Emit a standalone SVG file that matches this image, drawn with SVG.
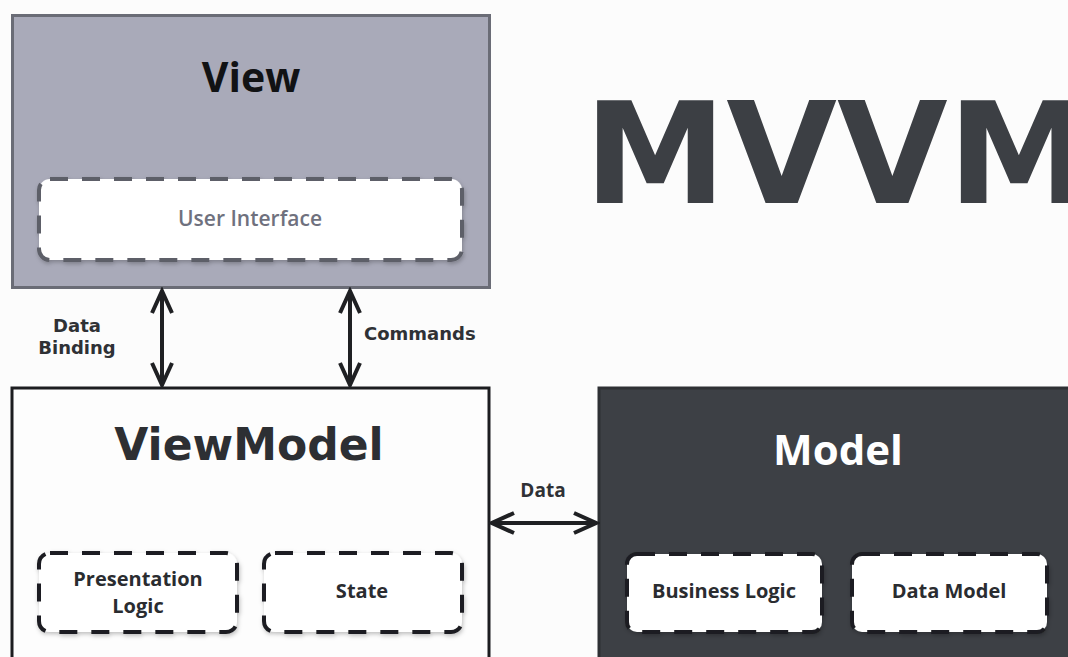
<svg xmlns="http://www.w3.org/2000/svg" width="1068" height="657" viewBox="0 0 1068 657">
  <defs>
    <style>
      .title-os { font-family: "Open Sans", "Noto Sans", sans-serif; font-weight: 700; text-anchor: middle; }
      .title-dj { font-family: "DejaVu Sans", "Liberation Sans", sans-serif; font-weight: 700; text-anchor: middle; }
      .lbl { font-family: "DejaVu Sans", "Liberation Sans", sans-serif; font-weight: 700; font-size: 18px; fill: #2f3135; }
      .inner { font-family: "Open Sans", "Noto Sans", sans-serif; font-weight: 700; font-size: 20px; fill: #2a2c30; text-anchor: middle; }
      .sub { fill: #ffffff; stroke-width: 4; stroke-dasharray: 18 14; filter: url(#sh); }
      .conn { stroke: #1f2023; stroke-width: 4; fill: none; }
    </style>
    <filter id="sh" x="-10%" y="-10%" width="120%" height="130%">
      <feDropShadow dx="1" dy="2" stdDeviation="2" flood-color="#000" flood-opacity="0.25"/>
    </filter>
    <marker id="ah" viewBox="-24 -12 28 24" refX="0" refY="0" markerWidth="28" markerHeight="24" markerUnits="userSpaceOnUse" orient="auto-start-reverse">
      <path d="M -22,-10 L 0,0 L -22,10" fill="none" stroke="#1f2023" stroke-width="4" stroke-linejoin="miter"/>
    </marker>
  </defs>

  <rect x="0" y="0" width="1068" height="657" fill="#fcfcfc"/>

  <g id="title">
    <text x="584" y="203" font-family="DejaVu Sans, Liberation Sans, sans-serif" font-weight="700" font-size="141" fill="#3c3f44" textLength="506" lengthAdjust="spacingAndGlyphs">MVVM</text>
  </g>

  <g id="view">
    <rect x="12.5" y="15.5" width="477" height="272" fill="#a9aab9" stroke="#6a6c76" stroke-width="3"/>
    <text class="title-os" x="251" y="92" font-size="41" fill="#111214">View</text>
  </g>
  <g id="user-interface">
    <rect class="sub" x="39" y="179" width="423" height="81" rx="11" stroke="#5d5f68" stroke-width="3.5"/>
    <text x="250" y="226" font-family="Open Sans, Noto Sans, sans-serif" font-weight="600" font-size="21" fill="#6f717e" text-anchor="middle">User Interface</text>
  </g>

  <g id="viewmodel">
    <rect x="12" y="388" width="477" height="290" fill="#fdfdfd" stroke="#1c1d20" stroke-width="3"/>
    <text class="title-dj" x="249" y="460" font-size="44" fill="#2d2f33">ViewModel</text>
  </g>
  <g id="presentation-logic">
    <rect class="sub" x="39" y="553" width="198" height="79" rx="11" stroke="#1c1d20"/>
    <text class="inner" x="138" y="586">Presentation</text>
    <text class="inner" x="138" y="613">Logic</text>
  </g>
  <g id="state">
    <rect class="sub" x="264" y="553" width="198" height="79" rx="11" stroke="#1c1d20"/>
    <text class="inner" x="362" y="598">State</text>
  </g>

  <g id="model">
    <rect x="599" y="388" width="480" height="290" fill="#3d4045" stroke="#2e3034" stroke-width="3"/>
    <text class="title-os" x="838" y="465" font-size="42" fill="#ffffff">Model</text>
  </g>
  <g id="business-logic">
    <rect class="sub" x="627" y="554" width="195" height="78" rx="10" stroke="#1c1d20" stroke-dasharray="11 8"/>
    <text class="inner" x="724" y="598">Business Logic</text>
  </g>
  <g id="data-model">
    <rect class="sub" x="852" y="554" width="195" height="78" rx="10" stroke="#1c1d20" stroke-dasharray="11 8"/>
    <text class="inner" x="949" y="598">Data Model</text>
  </g>

  <g id="connectors">
    <line class="conn" x1="162" y1="291" x2="162" y2="385" marker-start="url(#ah)" marker-end="url(#ah)"/>
    <line class="conn" x1="350" y1="291" x2="350" y2="385" marker-start="url(#ah)" marker-end="url(#ah)"/>
    <line class="conn" x1="492" y1="523" x2="596" y2="523" marker-start="url(#ah)" marker-end="url(#ah)"/>
    <text class="lbl" x="77" y="332" text-anchor="middle">Data</text>
    <text class="lbl" x="77" y="354" text-anchor="middle">Binding</text>
    <text class="lbl" x="364" y="340">Commands</text>
    <text x="543" y="497" font-family="Open Sans, Noto Sans, sans-serif" font-weight="700" font-size="19" fill="#2f3135" text-anchor="middle">Data</text>
  </g>
</svg>
